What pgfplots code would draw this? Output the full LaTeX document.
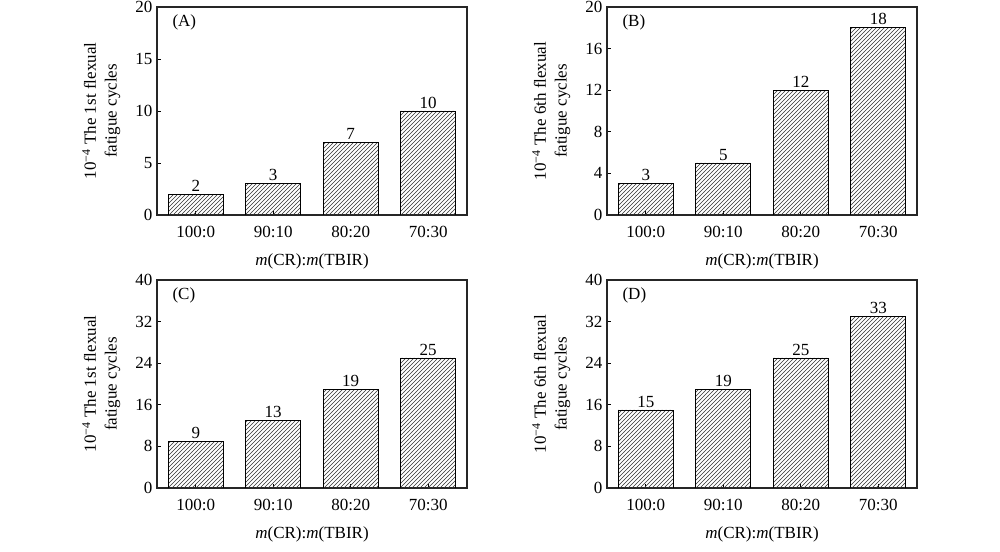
\documentclass[border=0pt]{standalone}
\usepackage{pgfplots}
\pgfplotsset{compat=1.18}
\usepackage{fontspec}
\setmainfont{Liberation Serif}
\usetikzlibrary{patterns}
\newcommand{\fs}{\fontsize{12.75}{15.5}\selectfont}
\tikzset{hbar/.style={draw=black, line width=0.6pt, pattern=north east lines, pattern color=black!80}}
\pgfplotsset{
  panel/.style={
    width=232.5pt, height=156pt, scale only axis,
    anchor=north west,
    ybar, bar width=0.71,
    xmin=-0.5, xmax=3.5, ymin=0,
    xtick={0,1,2,3},
    xticklabels={100:0,90:10,80:20,70:30},
    tick align=inside, xtick pos=bottom, ytick pos=left,
    major tick length=3pt,
    axis line style={line width=0.8pt, black!85},
    every tick/.style={black, line width=0.6pt},
    tick label style={font=\fs},
    xticklabel style={yshift=-5pt},
    label style={font=\fs},
    /pgf/number format/assume math mode=true,
    xlabel={\textit{m}(CR):\textit{m}(TBIR)},
    xlabel style={at={(axis description cs:0.5,-0.225)}, anchor=center},
    ylabel style={at={(axis description cs:-0.18,0.5)}, anchor=center, align=center},
    nodes near coords,
    nodes near coords style={font=\fs, text=black, /pgf/number format/assume math mode=true, inner sep=1.8pt},
  },
}
\begin{document}
\begin{tikzpicture}
\path[use as bounding box] (0,0) rectangle (750pt,414pt);
% (A)
\begin{axis}[panel, at={(117.75pt,408.75pt)}, ymax=20, ytick={0,5,10,15,20},
  ylabel={10\textsuperscript{−4} The 1st flexual\\fatigue cycles}]
\addplot[hbar] coordinates {(0,2) (1,3) (2,7) (3,10)};
\node[anchor=west, font=\fs] at (axis description cs:0.035,0.925) {(A)};
\end{axis}
% (B)
\begin{axis}[panel, at={(455.25pt,408.75pt)}, ymax=20, ytick={0,4,8,12,16,20},
  ylabel={10\textsuperscript{−4} The 6th flexual\\fatigue cycles}]
\addplot[hbar] coordinates {(0,3) (1,5) (2,12) (3,18)};
\node[anchor=west, font=\fs] at (axis description cs:0.035,0.925) {(B)};
\end{axis}
% (C)
\begin{axis}[panel, at={(117.75pt,204pt)}, ymax=40, ytick={0,8,16,24,32,40},
  ylabel={10\textsuperscript{−4} The 1st flexual\\fatigue cycles}]
\addplot[hbar] coordinates {(0,9) (1,13) (2,19) (3,25)};
\node[anchor=west, font=\fs] at (axis description cs:0.035,0.925) {(C)};
\end{axis}
% (D)
\begin{axis}[panel, at={(455.25pt,204pt)}, ymax=40, ytick={0,8,16,24,32,40},
  ylabel={10\textsuperscript{−4} The 6th flexual\\fatigue cycles}]
\addplot[hbar] coordinates {(0,15) (1,19) (2,25) (3,33)};
\node[anchor=west, font=\fs] at (axis description cs:0.035,0.925) {(D)};
\end{axis}
\end{tikzpicture}
\end{document}
